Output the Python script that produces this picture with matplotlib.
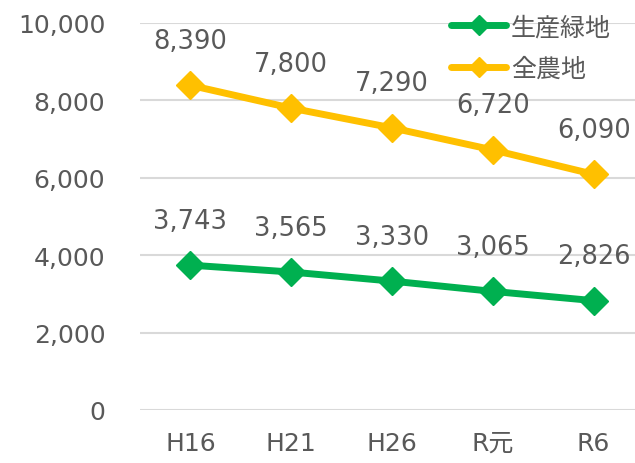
import matplotlib
matplotlib.use("Agg")
from matplotlib import pyplot as plt
from matplotlib.ticker import FuncFormatter

plt.rcParams['font.family'] = ['DejaVu Sans', 'Noto Sans CJK JP']

categories = ["H16", "H21", "H26", "R元", "R6"]
green_land = [3743, 3565, 3330, 3065, 2826]
all_farmland = [8390, 7800, 7290, 6720, 6090]
series_names = ["生産緑地", "全農地"]

text_color = "#595959"
fig = plt.figure(figsize=(6.35, 4.64), dpi=100)
ax = fig.add_axes([140 / 635, 1 - 411 / 464, 1 - 140 / 635, (411 - 24) / 464])

x = list(range(len(categories)))
for vals, name, color in [(green_land, series_names[0], "#00B050"),
                          (all_farmland, series_names[1], "#FFC000")]:
    ax.plot(x, vals, color=color, lw=5, marker="D", markersize=14,
            label=name, solid_capstyle="round")
    for xi, v in zip(x, vals):
        ax.annotate(f"{v:,}", (xi, v), xytext=(0, 27), textcoords="offset points",
                    ha="center", va="baseline", fontsize=18.5, color=text_color)

ax.set_ylim(0, 10000)
ax.set_xlim(-0.5, 4.41)
ax.set_yticks(range(0, 10001, 2000))
ax.yaxis.set_major_formatter(FuncFormatter(lambda v, p: f"{int(v):,}"))
ax.set_xticks(x)
ax.set_xticklabels(categories)
ax.grid(axis="y", color="#D9D9D9", lw=1.5)
ax.set_axisbelow(True)
for s in ax.spines.values():
    s.set_visible(False)
ax.tick_params(length=0, labelsize=18, colors=text_color)
ax.tick_params(axis="x", pad=15)
ax.tick_params(axis="y", pad=25)

ax.legend(loc="upper right", bbox_to_anchor=(611 / 635, 1 - 16 / 464),
          bbox_transform=fig.transFigure, frameon=False, borderpad=0,
          fontsize=18, labelcolor=text_color, handlelength=2.2,
          handletextpad=0.2, borderaxespad=0, labelspacing=0.7,
          markerscale=0.75)

fig.savefig("out.png", dpi=100)
